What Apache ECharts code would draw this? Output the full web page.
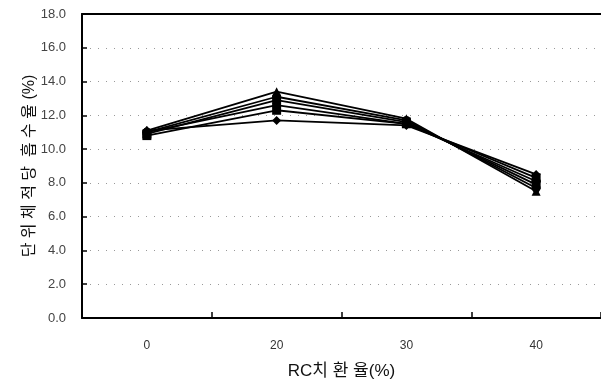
<!DOCTYPE html>
<html>
<head>
<meta charset="utf-8">
<script src="https://cdn.jsdelivr.net/npm/echarts@6/dist/echarts.min.js"></script>
<style>
  html, body { margin: 0; padding: 0; background: #fff; }
  #chart { width: 601px; height: 385px; }
</style>
</head>
<body>
<div id="chart"></div>
<script>
// RC 치환율별 단위체적당 흡수율
var categories = ['0', '20', '30', '40']
var s1 = [11.1, 13.4, 11.8, 7.5]
var s2 = [11.0, 13.1, 11.7, 7.7]
var s3 = [10.9, 12.9, 11.6, 7.9]
var s4 = [11.0, 12.6, 11.5, 8.1]
var s5 = [10.8, 12.3, 11.5, 8.3]
var s6 = [11.1, 11.7, 11.4, 8.5]
var seriesList = [s1, s2, s3, s4, s5, s6]
var symbols = ['triangle', 'circle', 'rect', 'circle', 'rect', 'diamond']

var font = '"Liberation Sans", "Noto Sans CJK KR", sans-serif'

var myChart = echarts.init(document.getElementById('chart'))

var option = {
  animation: false,
  grid: {
    left: 82,
    right: -1,
    top: 14,
    bottom: 62,
  },
  xAxis: [
    {
      type: 'category',
      data: categories,
      boundaryGap: true,
      name: 'RC치 환 율(%)',
      nameLocation: 'middle',
      nameGap: 45,
      nameTextStyle: { fontFamily: font, fontSize: 17, color: '#111' },
      axisLine: { lineStyle: { color: '#000', width: 2 } },
      axisTick: { show: true, inside: true, length: 6, lineStyle: { color: '#000', width: 1.5 } },
      axisLabel: { fontFamily: font, fontSize: 12, color: '#333', margin: 22 },
      splitLine: { show: false },
    },
    {
      // top frame line
      type: 'category',
      data: categories,
      position: 'top',
      axisLine: { show: true, lineStyle: { color: '#000', width: 2 } },
      axisTick: { show: false },
      axisLabel: { show: false },
      splitLine: { show: false },
    },
  ],
  yAxis: {
    type: 'value',
    min: 0,
    max: 18,
    interval: 2,
    name: '단 위 체 적 당  흡 수 율 (%)',
    nameLocation: 'middle',
    nameGap: 44,
    nameMoveOverlap: false,
    nameRotate: 90,
    nameTextStyle: { fontFamily: font, fontSize: 16, color: '#111' },
    axisLine: { show: true, lineStyle: { color: '#000', width: 2 } },
    axisTick: { show: true, inside: true, length: 5, lineStyle: { color: '#000', width: 1.5 } },
    axisLabel: {
      fontFamily: font,
      fontSize: 13,
      color: '#444',
      margin: 16,
      formatter: function (v) {
        return v.toFixed(1)
      },
    },
    splitLine: { show: true, lineStyle: { color: '#999', type: [1, 7], width: 1 } },
  },
  series: seriesList.map(function (d, i) {
    return {
      type: 'line',
      data: d,
      symbol: symbols[i],
      symbolSize: 9,
      lineStyle: { color: '#000', width: 1.8 },
      itemStyle: { color: '#000' },
    }
  }),
}
myChart.setOption(option)
</script>
</body>
</html>
